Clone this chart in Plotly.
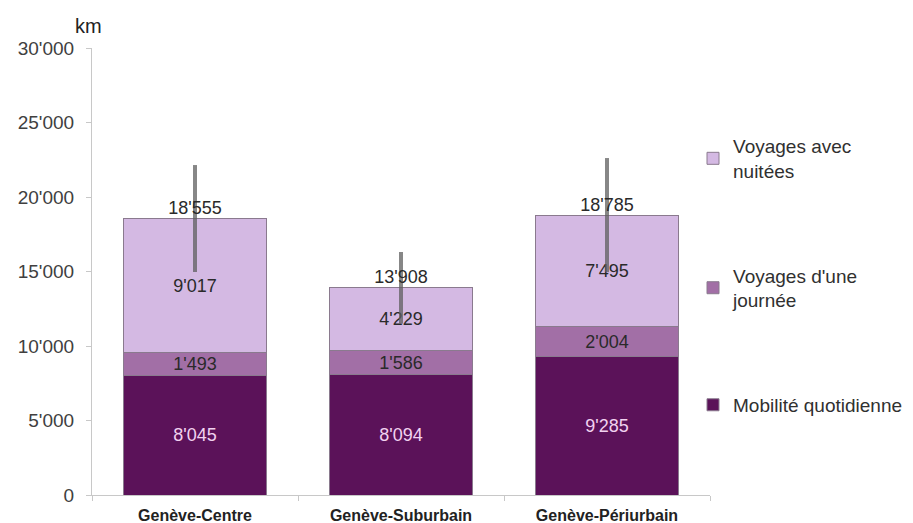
import plotly.graph_objects as go

categories = ["Genève-Centre", "Genève-Suburbain", "Genève-Périurbain"]
mobilite = [8045, 8094, 9285]
journee = [1493, 1586, 2004]
nuitees = [9017, 4229, 7495]
totals = [18555, 13908, 18785]
err_half = [3590, 2400, 3830]
series_names = ["Mobilité quotidienne", "Voyages d'une<br>journée", "Voyages avec<br>nuitées"]
tick_vals = [0, 5000, 10000, 15000, 20000, 25000, 30000]
tick_text = ["0", "5'000", "10'000", "15'000", "20'000", "25'000", "30'000"]


def fmt(v):
    return f"{v:,}".replace(",", "'")


FONT = "Liberation Sans, Arial, sans-serif"
colors = ["#5b1259", "#a26fa6", "#d4b9e3"]
text_colors = ["#f2d2f0", "#2a2a2a", "#2a2a2a"]

fig = go.Figure()
for i, (name, vals) in enumerate(zip(series_names, [mobilite, journee, nuitees])):
    fig.add_trace(go.Bar(
        x=categories, y=vals, name=name,
        marker=dict(color=colors[i], line=dict(color="#8a7a8e", width=1)),
        text=[fmt(v) for v in vals], textposition="inside",
        insidetextanchor="middle", constraintext="none",
        textfont=dict(family=FONT, size=18, color=text_colors[i]),
        width=0.69, legendgroup=f"g{i}", legendrank=3 - i, hoverinfo="skip",
    ))

fig.add_trace(go.Scatter(
    x=categories, y=totals, mode="text",
    text=[fmt(v) for v in totals], textposition="top center",
    textfont=dict(family=FONT, size=18, color="#2a2a2a"),
    error_y=dict(type="data", array=err_half, symmetric=True,
                 color="rgba(95,95,95,0.75)", thickness=4, width=0),
    showlegend=False, hoverinfo="skip",
))

fig.update_layout(
    barmode="stack",
    width=913, height=523,
    margin=dict(l=92, r=203, t=48, b=28, autoexpand=False),
    plot_bgcolor="white", paper_bgcolor="white",
    font=dict(family=FONT, color="#404040"),
    bargap=0.31,
    legend=dict(
        x=0.9725, xanchor="left", y=0.823, yanchor="top",
        traceorder="grouped", tracegroupgap=77,
        font=dict(family=FONT, size=19, color="#303030"),
        itemwidth=30,
    ),
    xaxis=dict(
        showline=True, linecolor="#c8c8c8", linewidth=1,
        ticks="outside", tickson="boundaries", ticklen=5, tickcolor="#c8c8c8",
        tickfont=dict(family=FONT, size=16, color="#222222", weight="bold"),
        showgrid=False, automargin=False, ticklabelstandoff=6,
    ),
    yaxis=dict(
        range=[0, 30000], tickvals=tick_vals, ticktext=tick_text,
        showline=True, linecolor="#c8c8c8", linewidth=1,
        ticks="outside", ticklen=5, tickcolor="#c8c8c8",
        tickfont=dict(family=FONT, size=19, color="#404040"),
        showgrid=False, zeroline=False, ticklabelstandoff=8, automargin=False,
    ),
    annotations=[dict(
        text="km", x=0.0, xref="paper", y=1.0, yref="paper",
        xanchor="left", yanchor="bottom", xshift=-19, yshift=9, showarrow=False,
        font=dict(family=FONT, size=20, color="#222222"),
    )],
)

fig.write_html("out.html")
